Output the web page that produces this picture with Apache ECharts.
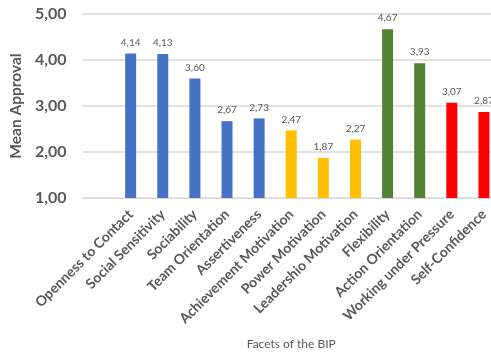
<!DOCTYPE html>
<html>
<head>
<meta charset="utf-8">
<script src="https://cdn.jsdelivr.net/npm/echarts@6/dist/echarts.min.js"></script>
<style>
  html, body { margin: 0; padding: 0; background: #fff; overflow: hidden; }
  /* a bit wider than the window: the original is cropped on the right */
  #chart { width: 500px; height: 356px; }
</style>
</head>
<body>
<div id="chart"></div>
<script>
// first category is an empty slot, as in the original
let facets = ["", "Openness to Contact", "Social Sensitivity", "Sociability", "Team Orientation",
  "Assertiveness", "Achievement Motivation", "Power Motivation", "Leadershio Motivation",
  "Flexibility", "Action Orientation", "Working under Pressure", "Self-Confidence"];
let meanValues = [null, 4.14, 4.13, 3.60, 2.67, 2.73, 2.47, 1.87, 2.27, 4.67, 3.93, 3.07, 2.87];
let barColors = ["#4472C4", "#4472C4", "#4472C4", "#4472C4", "#4472C4", "#4472C4",
  "#FFC000", "#FFC000", "#FFC000", "#548235", "#548235", "#FF0000", "#FF0000"];
let yTicks = [1, 2, 3, 4, 5];

let font = "Lato, 'Noto Sans', sans-serif";
let fmt = (v) => Number(v).toFixed(2).replace(".", ",");

let chart = echarts.init(document.getElementById("chart"));
let barData = [];
meanValues.forEach((v, i) => {
  barData.push({ value: v, itemStyle: { color: barColors[i] } });
});

let option = {
  animation: false,
  textStyle: { fontFamily: font },
  grid: { left: 77, right: 0, top: 14, bottom: 158, containLabel: false },
  xAxis: {
    type: "category",
    data: facets,
    name: "Facets of the BIP",
    nameLocation: "middle",
    nameGap: 140,
    nameTextStyle: { color: "#595959", fontSize: 12, fontFamily: font },
    axisLine: { show: true, lineStyle: { color: "#d9d9d9", width: 1 } },
    axisTick: { show: false },
    axisLabel: {
      interval: 0,
      rotate: 45,
      margin: 14,
      color: "#595959",
      fontWeight: "bold",
      fontSize: 14,
      fontFamily: font,
    },
  },
  yAxis: {
    type: "value",
    min: yTicks[0],
    max: yTicks[yTicks.length - 1],
    interval: 1,
    name: "Mean Approval",
    nameLocation: "middle",
    nameGap: 54,
    nameTextStyle: { color: "#595959", fontSize: 15.5, fontWeight: "bold", fontFamily: font },
    axisLine: { show: false },
    axisTick: { show: false },
    splitLine: { lineStyle: { color: "#d9d9d9", width: 1.5 } },
    axisLabel: {
      formatter: fmt,
      color: "#595959",
      fontWeight: "bold",
      fontSize: 16,
      margin: 16,
      fontFamily: font,
    },
  },
  series: [
    {
      type: "bar",
      data: barData,
      barWidth: 11,
      label: {
        show: true,
        position: "top",
        distance: 6,
        color: "#595959",
        fontSize: 10,
        fontFamily: font,
        formatter: (p) => fmt(p.value),
      },
    },
  ],
};
chart.setOption(option);
</script>
</body>
</html>
